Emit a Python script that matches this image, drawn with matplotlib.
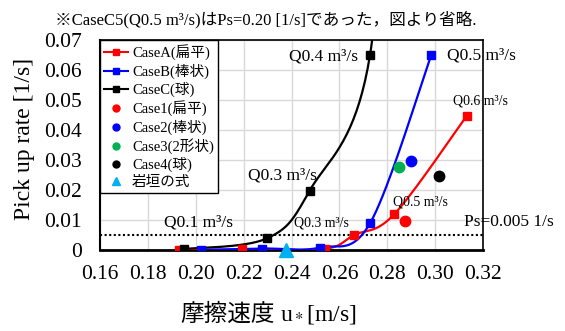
#!/bin/env python3

import matplotlib
matplotlib.use("Agg")
import matplotlib.pyplot as plt
import numpy as np
from matplotlib.lines import Line2D

plt.rcParams["font.family"] = ["Liberation Serif", "Noto Sans CJK JP"]
plt.rcParams["mathtext.fontset"] = "stix"

# smooth-line series (x: friction velocity, y: pick up rate)
caseA_x = [0.193, 0.2195, 0.2539, 0.2661, 0.2829, 0.3133]
caseA_y = [0.0000, 0.0002, 0.0004, 0.0050, 0.0119, 0.0448]
caseB_x = [0.202, 0.2277, 0.2518, 0.2728, 0.2984]
caseB_y = [0.0000, 0.0005, 0.0008, 0.0089, 0.0650]
# last point (CaseC5, Ps=0.20) lies off the chart
caseC_x = [0.195, 0.2298, 0.2476, 0.2728, 0.284]
caseC_y = [0.0003, 0.0039, 0.0198, 0.0650, 0.20]

# single points
case1 = (0.2876, 0.0098)
case2 = (0.2901, 0.0298)
case3 = (0.2848, 0.0278)
case4 = (0.3016, 0.0248)
iwagaki = (0.2378, 0.0)

ps_line = 0.005
x_ticks = [0.16, 0.18, 0.20, 0.22, 0.24, 0.26, 0.28, 0.30, 0.32]
y_ticks = [0, 0.01, 0.02, 0.03, 0.04, 0.05, 0.06, 0.07]


def smooth(xs, ys, n=40):
    # Excel-like smoothed line: cubic bezier through the points
    p = np.column_stack([xs, ys])
    pts = np.vstack([p[0], p, p[-1]])
    out = []
    t = np.linspace(0, 1, n)[:, None]
    for i in range(len(p) - 1):
        p0, p1 = pts[i + 1], pts[i + 2]
        c0 = p0 + (pts[i + 2] - pts[i]) / 6
        c1 = p1 - (pts[i + 3] - pts[i + 1]) / 6
        seg = ((1 - t) ** 3) * p0 + 3 * ((1 - t) ** 2) * t * c0 + 3 * (1 - t) * t ** 2 * c1 + t ** 3 * p1
        out.append(seg)
    out = np.vstack(out)
    return out[:, 0], out[:, 1]


fig = plt.figure(figsize=(5.65, 3.31), dpi=100)
ax = fig.add_axes([100 / 565, 1 - 250 / 331, 383 / 565, 210 / 331])

ax.axhline(ps_line, color="black", ls=(0, (1, 1.2)), lw=1.5, zorder=2)

for xs, ys, col in [(caseA_x, caseA_y, "#ff0000"), (caseB_x, caseB_y, "#0000ff"), (caseC_x, caseC_y, "black")]:
    sx, sy = smooth(xs, ys)
    ax.plot(sx, sy, color=col, lw=1.6, zorder=3)
    ax.plot(xs, ys, ls="none", marker="s", ms=6, color=col, zorder=4)

ax.plot(*case1, "o", ms=7.5, color="#ff0000", zorder=5)
ax.plot(*case2, "o", ms=7.5, color="#0000ff", zorder=5)
ax.plot(*case3, "o", ms=7.5, color="#00b050", zorder=5)
ax.plot(*case4, "o", ms=7.5, color="black", zorder=5)
ax.plot(*iwagaki, "^", ms=10, color="#00b0f0", zorder=5, clip_on=False)

ax.set_xlim(0.16, 0.32)
ax.set_ylim(0, 0.07)
ax.set_xticks(x_ticks)
ax.set_xticklabels([f"{v:.2f}" for v in x_ticks])
ax.set_yticks(y_ticks)
ax.set_yticklabels(["0"] + [f"{v:.2f}" for v in y_ticks[1:]])
ax.tick_params(length=0, labelsize=15.5)
ax.tick_params(axis="x", pad=11)
ax.tick_params(axis="y", pad=13)
ax.grid(True, color="#d9d9d9", lw=1, zorder=0)
ax.set_axisbelow(True)
for s in ax.spines.values():
    s.set_color("black")
    s.set_linewidth(1.2)
ax.spines["bottom"].set_linewidth(2)
ax.spines["left"].set_linewidth(1.5)

# annotations
big = 12.5
small = 10
ax.text(0.2013, 0.0091, "Q0.1 m³/s", fontsize=big, ha="center", va="center")
ax.text(0.2361, 0.0250, "Q0.3 m³/s", fontsize=big, ha="center", va="center")
ax.text(0.2532, 0.0644, "Q0.4 m³/s", fontsize=big, ha="center", va="center")
ax.text(0.3192, 0.0650, "Q0.5 m³/s", fontsize=big, ha="center", va="center")
ax.text(0.3189, 0.0498, "Q0.6 m³/s", fontsize=small, ha="center", va="center")
ax.text(0.2939, 0.0161, "Q0.5 m³/s", fontsize=small, ha="center", va="center")
ax.text(0.2525, 0.0089, "Q0.3 m³/s", fontsize=small, ha="center", va="center")
ax.text(0.3307, 0.0094, "Ps=0.005 1/s", fontsize=big, ha="center", va="center")

handles = [
    Line2D([], [], color="#ff0000", marker="s", ms=4, lw=1.5),
    Line2D([], [], color="#0000ff", marker="s", ms=4, lw=1.5),
    Line2D([], [], color="black", marker="s", ms=4, lw=1.5),
    Line2D([], [], color="#ff0000", marker="o", ms=5, ls="none"),
    Line2D([], [], color="#0000ff", marker="o", ms=5, ls="none"),
    Line2D([], [], color="#00b050", marker="o", ms=5, ls="none"),
    Line2D([], [], color="black", marker="o", ms=5, ls="none"),
    Line2D([], [], color="#00b0f0", marker="^", ms=6, ls="none"),
]
labels = ["CaseA(扁平)", "CaseB(棒状)", "CaseC(球)", "Case1(扁平)", "Case2(棒状)",
          "Case3(2形状)", "Case4(球)", "岩垣の式"]
leg = ax.legend(handles, labels, loc="upper left", bbox_to_anchor=(0, 1), borderaxespad=0,
                fontsize=10.5, fancybox=False, framealpha=1, edgecolor="black",
                handlelength=1.6, handletextpad=0.3, labelspacing=0.22, borderpad=0.3)
leg.get_frame().set_linewidth(1.0)
leg.set_zorder(10)

fig.text(25 / 565, 1 - 139 / 331, "Pick up rate [1/s]", rotation=90, ha="center", va="center", fontsize=17)
fig.text(275 / 565, 1 - 321 / 331, "摩擦速度", ha="right", va="baseline", fontsize=17)
fig.text(280 / 565, 1 - 321 / 331, "u$_*$[m/s]", ha="left", va="baseline", fontsize=17,
         family="Liberation Serif")
fig.text(265.5 / 565, 1 - 20 / 331, "※CaseC5(Q0.5 m³/s)はPs=0.20 [1/s]であった，図より省略.",
         ha="center", va="center", fontsize=12)

fig.savefig("out.png", dpi=100)
